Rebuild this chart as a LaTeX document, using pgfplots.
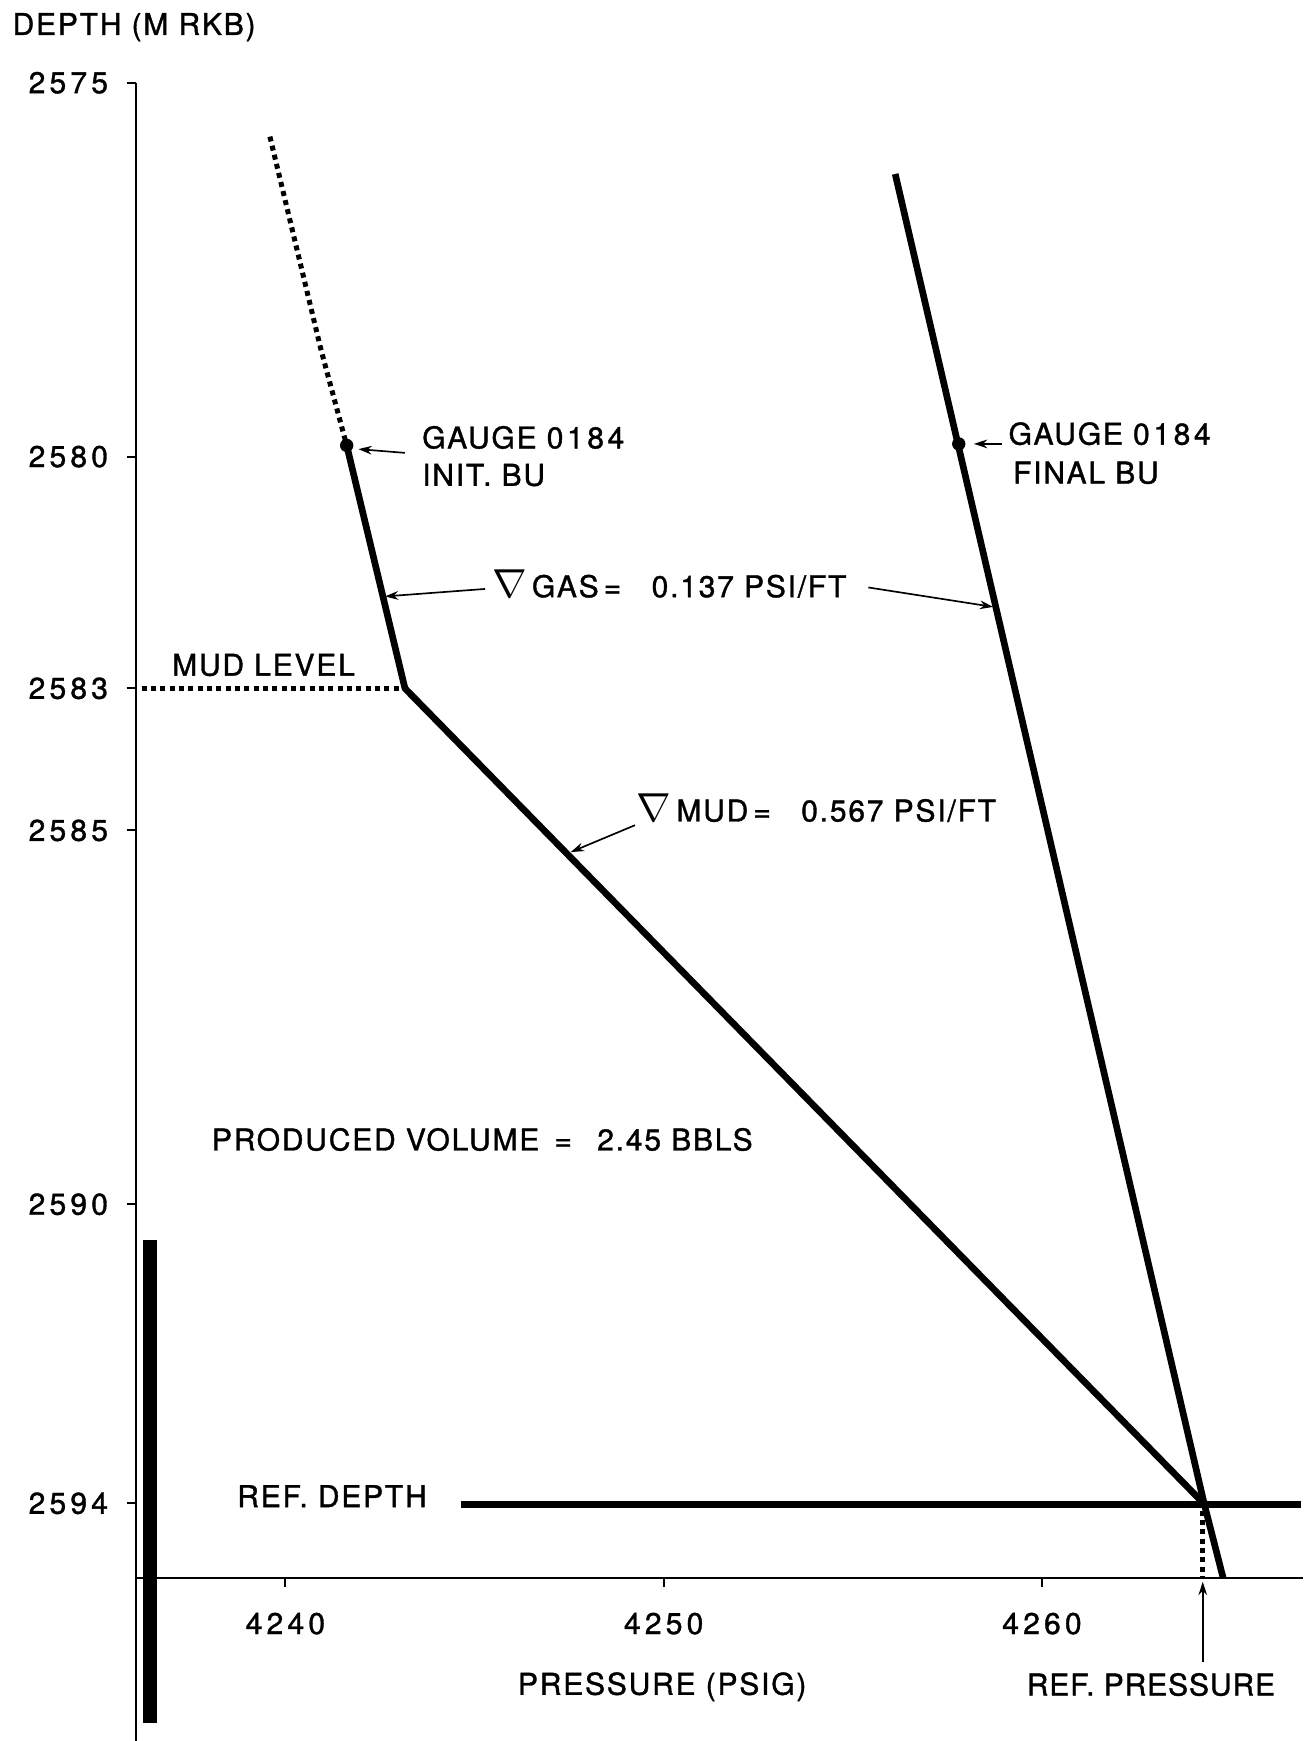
\documentclass[border=0pt]{standalone}
\usepackage{pgfplots}
\pgfplotsset{compat=1.18}
\usepackage{fontspec}
\setmainfont{TeX Gyre Heros}[LetterSpace=6, FakeBold=1.2]
\usetikzlibrary{arrows.meta}

\tikzset{
  lbl/.style={anchor=base west, inner sep=0pt},
  ann/.style={line width=0.5pt, -{Stealth[length=4pt,width=2.6pt]}},
  dots/.style={line width=1.5pt, dash pattern=on 1.5pt off 1.3pt},
}

\begin{document}
\fontsize{9}{11}\selectfont
\begin{tikzpicture}
\useasboundingbox (-40.8pt,-48.87pt) rectangle (352.5pt,473.43pt);
\begin{axis}[
    at={(0,0)}, anchor=south west,
    scale only axis, width=350.1pt, height=448.6pt,
    xmin=4236.05, xmax=4266.9,
    ymin=2575, ymax=2595,
    y dir=reverse,
    axis lines=left,
    axis line style={-, line width=0.6pt},
    enlargelimits=false, clip=false,
    xtick={4240,4250,4260},
    xticklabels={4240,4250,4260},
    ytick={2575,2580,2583.1,2585,2590,2594},
    yticklabels={2575,2580,2583,2585,2590,2594},
    tick align=outside,
    major tick length=2.8pt,
    tick style={line width=0.6pt, black},
    /pgf/number format/assume math mode=true,
    ticklabel style={font=\addfontfeature{LetterSpace=14}},
    xticklabel style={anchor=north, inner sep=0pt, yshift=-7.4pt},
    yticklabel style={anchor=east, inner sep=0pt, xshift=-5.4pt},
  ]

  % initial build-up, gauge 0184
  \addplot[black, dots] coordinates {(4239.59,2575.72) (4240.94,2578.57) (4241.62,2579.85)};
  \addplot[black, line width=2pt, line join=round] coordinates {
    (4241.62,2579.85) (4243.16,2583.1) (4264.29,2594.01)};

  % final build-up, gauge 0184
  \addplot[black, line width=2pt] coordinates {
    (4256.12,2576.22) (4264.29,2594.01) (4264.79,2595.0)};

  % gauge points
  \addplot[black, only marks, mark=*, mark size=1.8pt] coordinates {
    (4241.62,2579.85) (4257.80,2579.83)};

  % reference depth and pressure
  \addplot[black, line width=2.1pt] coordinates {(4244.64,2594.01) (4266.86,2594.01)};
  \addplot[black, line width=1.4pt, dash pattern=on 1.5pt off 1.3pt] coordinates {
    (4264.25,2594.1) (4264.25,2595.0)};

  % mud level
  \addplot[black, dots] coordinates {(4236.2,2583.1) (4243.16,2583.1)};

  % perforated interval
  \addplot[black, line width=4.2pt] coordinates {(4236.42,2590.48) (4236.42,2596.94)};

  % y axis runs on below the x axis
  \draw[line width=0.6pt] (axis cs:4236.05,2595) -- (axis cs:4236.05,2597.2);

  % annotations
  \node[lbl] at (axis cs:4232.77,2574.36) {DEPTH (M RKB)};

  \node[lbl] at (axis cs:4243.60,2579.89) {GAUGE {\addfontfeature{LetterSpace=12}0184}};
  \node[lbl] at (axis cs:4243.60,2580.39) {INIT. BU};
  \draw[ann] (axis cs:4243.16,2579.95) -- (axis cs:4241.93,2579.90);

  \node[lbl] at (axis cs:4259.10,2579.84) {GAUGE {\addfontfeature{LetterSpace=12}0184}};
  \node[lbl] at (axis cs:4259.22,2580.36) {FINAL BU};
  \draw[ann] (axis cs:4258.93,2579.83) -- (axis cs:4258.20,2579.83);

  \node[lbl] at (axis cs:4245.45,2581.88) {\scalebox{1.35}{$\nabla$}\,GAS\,= \ \ 0.137 PSI/FT};
  \draw[ann] (axis cs:4245.28,2581.77) -- (axis cs:4242.63,2581.87);
  \draw[ann] (axis cs:4255.41,2581.75) -- (axis cs:4258.71,2582.01);

  \node[lbl] at (axis cs:4236.99,2582.93) {MUD LEVEL};

  \node[lbl] at (axis cs:4249.27,2584.88) {\scalebox{1.35}{$\nabla$}\,MUD\,= \ \ 0.567 PSI/FT};
  \draw[ann] (axis cs:4249.24,2584.93) -- (axis cs:4247.54,2585.29);

  \node[lbl] at (axis cs:4238.04,2589.28) {PRODUCED VOLUME\ \,= \ \,2.45 BBLS};
  \node[lbl] at (axis cs:4238.71,2594.05) {REF. DEPTH};

  \node[lbl] at (axis cs:4246.13,2596.56) {PRESSURE (PSIG)};
  \node[lbl] at (axis cs:4259.58,2596.57) {\addfontfeature{LetterSpace=3}REF. PRESSURE};
  \draw[ann] (axis cs:4264.25,2596.12) -- (axis cs:4264.25,2595.05);
\end{axis}
\end{tikzpicture}
\end{document}
